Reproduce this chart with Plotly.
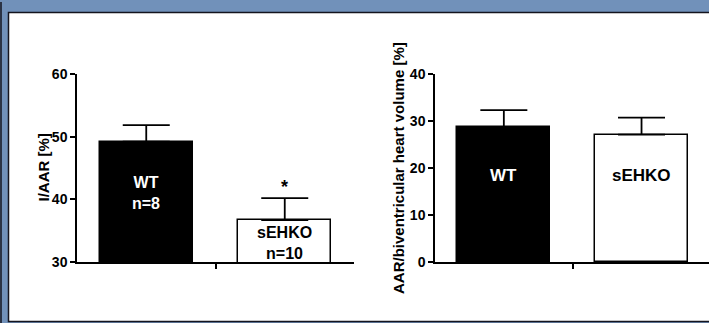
import plotly.graph_objects as go

# ---- data ----
groups = ["WT", "sEHKO"]
iaar_mean = [49.2, 36.7]
iaar_sem = [2.65, 3.5]
iaar_n = [8, 10]
aar_mean = [28.7, 27.1]
aar_sem = [3.6, 3.6]
left_ticks = [30, 40, 50, 60]
right_ticks = [0, 10, 20, 30, 40]

W, H = 709, 323
def fx(p): return p / W
def fy(p): return 1 - p / H

FONT = "Liberation Sans, Arial, sans-serif"
bar_colors = ["black", "white"]
text_colors = ["white", "black"]

fig = go.Figure()
xs = [0, 1]
fig.add_trace(go.Bar(x=xs, y=iaar_mean, width=0.674, marker=dict(color=bar_colors, line=dict(color="black", width=1.5)),
                     error_y=dict(type="data", symmetric=False, array=iaar_sem, arrayminus=[0, 0], color="black", thickness=1.8, width=23.5),
                     xaxis="x", yaxis="y", showlegend=False, hoverinfo="skip"))
fig.add_trace(go.Bar(x=xs, y=aar_mean, width=0.674, marker=dict(color=bar_colors, line=dict(color="black", width=1.5)),
                     error_y=dict(type="data", symmetric=False, array=aar_sem, arrayminus=[0, 0], color="black", thickness=1.8, width=23.5),
                     xaxis="x2", yaxis="y2", showlegend=False, hoverinfo="skip"))

xcommon = dict(showline=True, linecolor="black", linewidth=1.5, tickvals=[0.5], ticktext=[""],
               ticks="outside", ticklen=5, tickwidth=1.5, tickcolor="black", showgrid=False, zeroline=False, automargin=False)
ycommon = dict(showline=True, linecolor="black", linewidth=1.5, ticks="outside", ticklen=5, tickwidth=1.5, tickcolor="black",
               showgrid=False, zeroline=False, automargin=False, tickfont=dict(family=FONT, size=14, color="black"))

ydom = [fy(262), fy(74)]
fig.update_layout(
    width=W, height=H, margin=dict(l=0, r=0, t=0, b=0),
    paper_bgcolor="#7191BA", plot_bgcolor="rgba(0,0,0,0)",
    template="none", bargap=0,
    xaxis=dict(domain=[fx(77), fx(354)], anchor="y", range=[-0.5, 1.5], **xcommon),
    yaxis=dict(domain=ydom, anchor="x", range=[30, 60], tickvals=left_ticks,
               ticktext=[f"<b>{t}</b>" for t in left_ticks], **ycommon),
    xaxis2=dict(domain=[fx(435), 1.0], anchor="y2", range=[-0.5, 1.49], **xcommon),
    yaxis2=dict(domain=ydom, anchor="x2", range=[0, 40], tickvals=right_ticks,
                ticktext=[f"<b>{t}</b>" for t in right_ticks], **ycommon),
    shapes=[
        dict(type="rect", xref="paper", yref="paper", x0=fx(8.5), x1=fx(715), y0=fy(321.5), y1=fy(12.5),
             fillcolor="white", line=dict(color="#14141e", width=1.5), layer="below"),
        dict(type="line", xref="paper", yref="paper", x0=fx(1), x1=fx(1), y0=0, y1=fy(2),
             line=dict(color="#14141e", width=1.5), layer="below"),
    ],
)

ann = []
for i, g in enumerate(groups):
    ann.append(dict(x=xs[i], y=[41.0, 33.1][i], xref="x", yref="y", text=f"<b>{g}<br>n={iaar_n[i]}</b>", showarrow=False,
                    font=dict(family=FONT, size=16, color=text_colors[i]), xanchor="center", yanchor="middle"))
    ann.append(dict(x=xs[i], y=18.3, xref="x2", yref="y2", text=f"<b>{g}</b>", showarrow=False,
                    font=dict(family=FONT, size=17, color=text_colors[i]), xanchor="center", yanchor="middle"))
ann.append(dict(x=1, y=42.0, xref="x", yref="y", text="<b>*</b>", showarrow=False,
                font=dict(family=FONT, size=18, color="black"), xanchor="center", yanchor="middle"))
ann.append(dict(x=fx(42.5), y=fy(168), xref="paper", yref="paper", text="<b>I/AAR [%]</b>", textangle=-90, showarrow=False,
                font=dict(family=FONT, size=15, color="black"), xanchor="center", yanchor="middle"))
ann.append(dict(x=fx(398), y=fy(168), xref="paper", yref="paper", text="<b>AAR/biventricular heart volume [%]</b>", textangle=-90,
                showarrow=False, font=dict(family=FONT, size=15, color="black"), xanchor="center", yanchor="middle"))
fig.update_layout(annotations=ann)

fig.write_html("out.html", config={"displayModeBar": False},
               post_script="document.body.style.margin='0';document.body.style.overflow='hidden';")
